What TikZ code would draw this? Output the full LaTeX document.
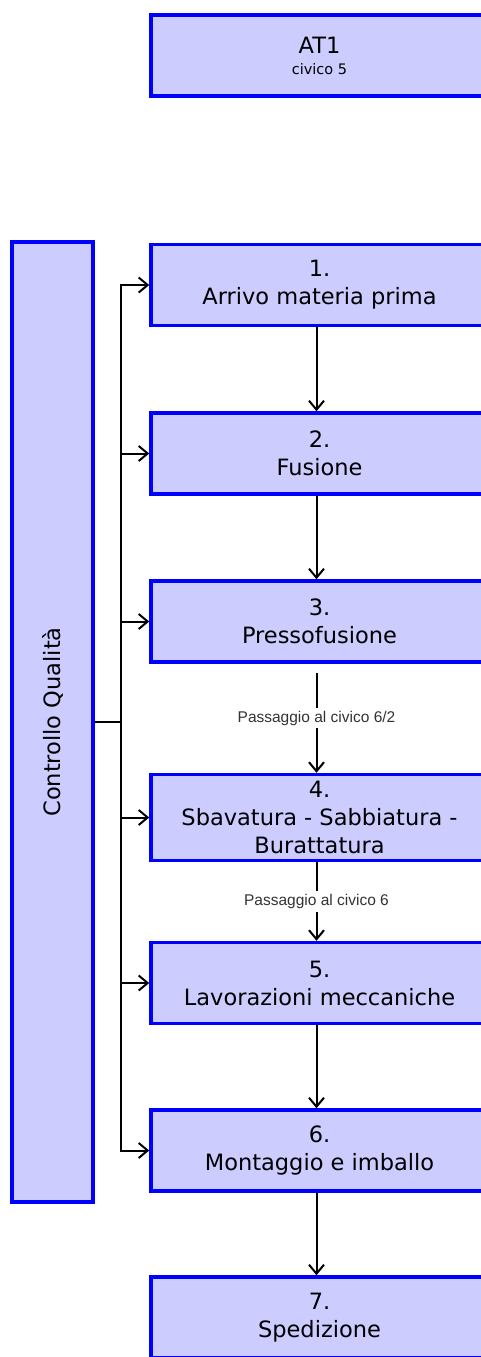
\documentclass[tikz,border=0pt]{standalone}
\usepackage{fontspec}
\setmainfont{DejaVu Sans}
\newfontfamily\passagefont{Liberation Sans}
\usetikzlibrary{arrows.meta}
\definecolor{boxfill}{HTML}{CCCCFF}

\begin{document}
\begin{tikzpicture}[x=1pt,y=-1pt,
    stepbox/.style={draw=blue,line width=3.5pt,fill=boxfill,minimum width=337pt,
        minimum height=81pt,inner sep=0pt,align=center,
        font=\fontsize{22.5}{28}\selectfont},
    flow/.style={line width=2pt,-{Straight Barb[length=9pt,width=15pt,line width=2pt]}},
    passage/.style={fill=white,inner sep=3pt,text=black!80,
        font=\passagefont\fontsize{15.5}{18}\selectfont}]
    \useasboundingbox (0,0) rectangle (481,1357);
    \clip (0,0) rectangle (481,1357);
    %\draw[very thin,color=gray] (0,0) grid[step=50] (481,1357);
    \node[stepbox] (at1) at (319.5,55.5) {AT1\\[-7pt]{\fontsize{14.5}{16}\selectfont civico 5}};
    \node[stepbox] (s1) at (319.5,285) {1.\\Arrivo materia prima};
    \node[stepbox] (s2) at (319.5,453.5) {2.\\Fusione};
    \node[stepbox] (s3) at (319.5,621.5) {3.\\Pressofusione};
    \node[stepbox,minimum height=86pt] (s4) at (319.5,817.5) {4.\\Sbavatura - Sabbiatura -\\Burattatura};
    \node[stepbox] (s5) at (319.5,983) {5.\\Lavorazioni meccaniche};
    \node[stepbox] (s6) at (319.5,1150.5) {6.\\Montaggio e imballo};
    \node[stepbox] (s7) at (319.5,1317.5) {7.\\Spedizione};
    \node[stepbox,rotate=90,minimum width=960pt] (qc) at (52.5,722) {Controllo Qualità};
    \coordinate (trunk) at (121,722);
    \draw[line width=2pt] (qc.south) -- (trunk);
    \foreach \s in {s1,s2,s3,s4,s5,s6}
        \draw[flow] (trunk) |- (\s.west);
    \draw[flow] ([xshift=-3pt]s1.south) -- ([xshift=-3pt]s2.north);
    \draw[flow] ([xshift=-3pt]s2.south) -- ([xshift=-3pt]s3.north);
    \draw[flow,shorten <=9pt] ([xshift=-3pt]s3.south) -- node[passage] {Passaggio al civico 6/2} ([xshift=-3pt]s4.north);
    \draw[flow] ([xshift=-3pt]s4.south) -- node[passage] {Passaggio al civico 6} ([xshift=-3pt]s5.north);
    \draw[flow] ([xshift=-3pt]s5.south) -- ([xshift=-3pt]s6.north);
    \draw[flow] ([xshift=-3pt]s6.south) -- ([xshift=-3pt]s7.north);
\end{tikzpicture}
\end{document}
